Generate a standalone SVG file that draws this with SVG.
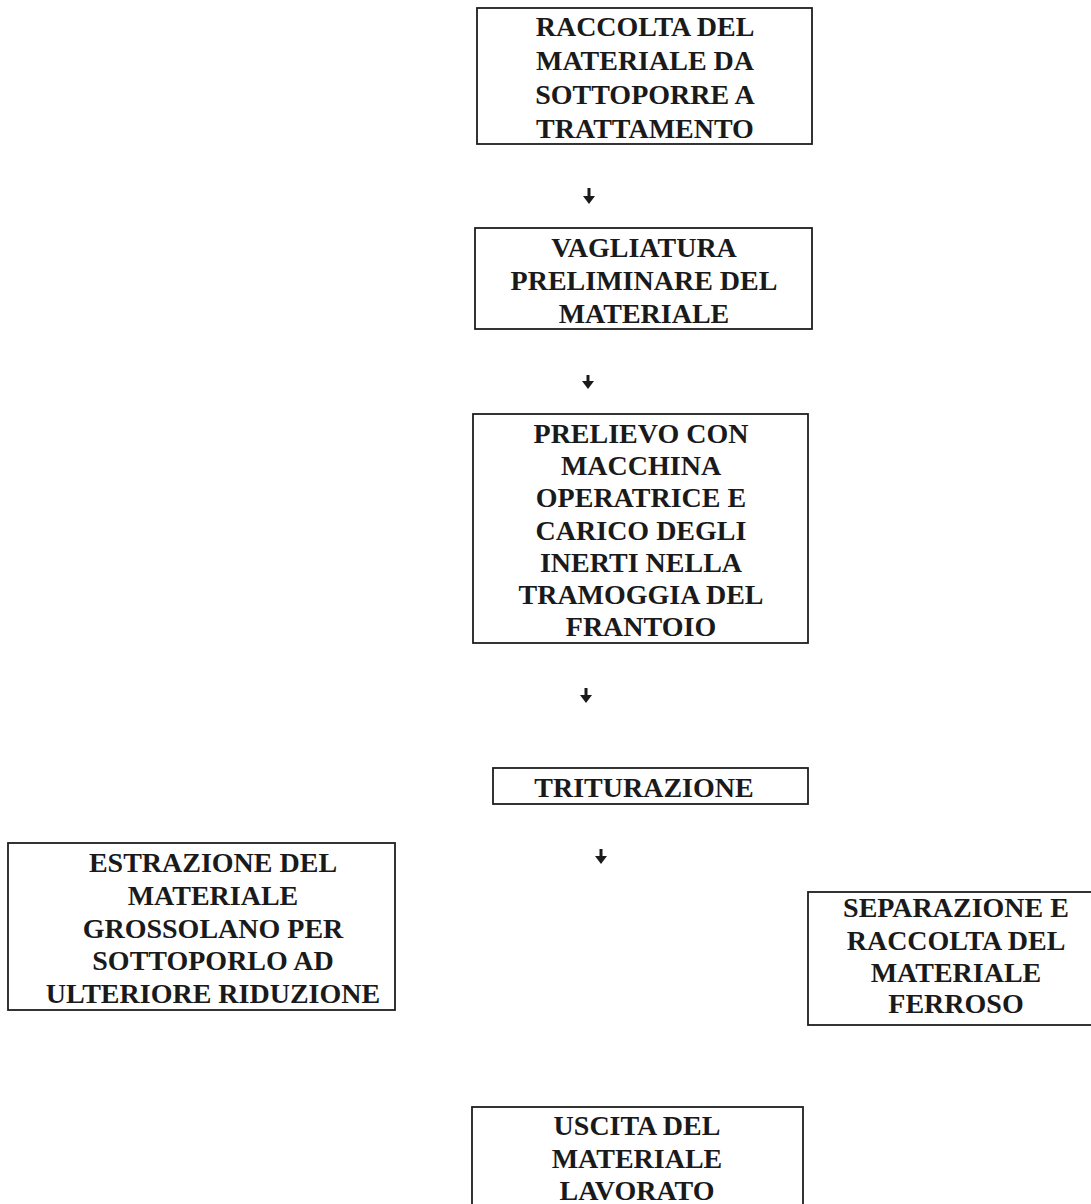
<svg xmlns="http://www.w3.org/2000/svg" width="1091" height="1204" viewBox="0 0 1091 1204">
  <defs>
    <style>
      .box { fill: none; stroke: #1e1e1e; stroke-width: 1.8; }
      .lbl { font-family: "Liberation Serif", "Times New Roman", serif; font-weight: bold; font-size: 28px; fill: #1a1a1a; text-anchor: middle; }
      .arr { stroke: #1a1a1a; stroke-width: 3; fill: none; marker-end: url(#head); }
    </style>
    <marker id="head" viewBox="0 0 8 12" refX="0" refY="6" markerWidth="8" markerHeight="12" markerUnits="userSpaceOnUse" orient="auto">
      <path d="M0,0 L8,6 L0,12 Z" fill="#1a1a1a"/>
    </marker>
  </defs>
  <rect width="1091" height="1204" fill="#ffffff"/>

  <g id="n1">
    <rect class="box" x="477" y="8" width="335" height="136"/>
    <text class="lbl" x="645" y="36">RACCOLTA DEL</text>
    <text class="lbl" x="645" y="70">MATERIALE DA</text>
    <text class="lbl" x="645" y="104">SOTTOPORRE A</text>
    <text class="lbl" x="645" y="138">TRATTAMENTO</text>
  </g>

  <g id="n2">
    <rect class="box" x="475" y="228" width="337" height="101"/>
    <text class="lbl" x="644" y="257">VAGLIATURA</text>
    <text class="lbl" x="644" y="290">PRELIMINARE DEL</text>
    <text class="lbl" x="644" y="323">MATERIALE</text>
  </g>

  <g id="n3">
    <rect class="box" x="473" y="414" width="335" height="229"/>
    <text class="lbl" x="641" y="443">PRELIEVO CON</text>
    <text class="lbl" x="641" y="475">MACCHINA</text>
    <text class="lbl" x="641" y="507">OPERATRICE E</text>
    <text class="lbl" x="641" y="540">CARICO DEGLI</text>
    <text class="lbl" x="641" y="572">INERTI NELLA</text>
    <text class="lbl" x="641" y="604">TRAMOGGIA DEL</text>
    <text class="lbl" x="641" y="636">FRANTOIO</text>
  </g>

  <g id="n4">
    <rect class="box" x="493" y="768" width="315" height="36"/>
    <text class="lbl" x="644" y="797">TRITURAZIONE</text>
  </g>

  <g id="n5">
    <rect class="box" x="8" y="843" width="387" height="167"/>
    <text class="lbl" x="213" y="872">ESTRAZIONE DEL</text>
    <text class="lbl" x="213" y="905">MATERIALE</text>
    <text class="lbl" x="213" y="938">GROSSOLANO PER</text>
    <text class="lbl" x="213" y="970">SOTTOPORLO AD</text>
    <text class="lbl" x="213" y="1003">ULTERIORE RIDUZIONE</text>
  </g>

  <g id="n6">
    <rect class="box" x="808" y="892" width="290" height="133"/>
    <text class="lbl" x="956" y="917">SEPARAZIONE E</text>
    <text class="lbl" x="956" y="950">RACCOLTA DEL</text>
    <text class="lbl" x="956" y="982">MATERIALE</text>
    <text class="lbl" x="956" y="1013">FERROSO</text>
  </g>

  <g id="n7">
    <rect class="box" x="472" y="1107" width="331" height="120"/>
    <text class="lbl" x="637" y="1135">USCITA DEL</text>
    <text class="lbl" x="637" y="1168">MATERIALE</text>
    <text class="lbl" x="637" y="1200">LAVORATO</text>
  </g>

  <g id="connectors">
    <line class="arr" x1="589" y1="188" x2="589" y2="196"/>
    <line class="arr" x1="588" y1="375" x2="588" y2="381"/>
    <line class="arr" x1="586" y1="688" x2="586" y2="695"/>
    <line class="arr" x1="601" y1="849" x2="601" y2="856"/>
  </g>
</svg>
